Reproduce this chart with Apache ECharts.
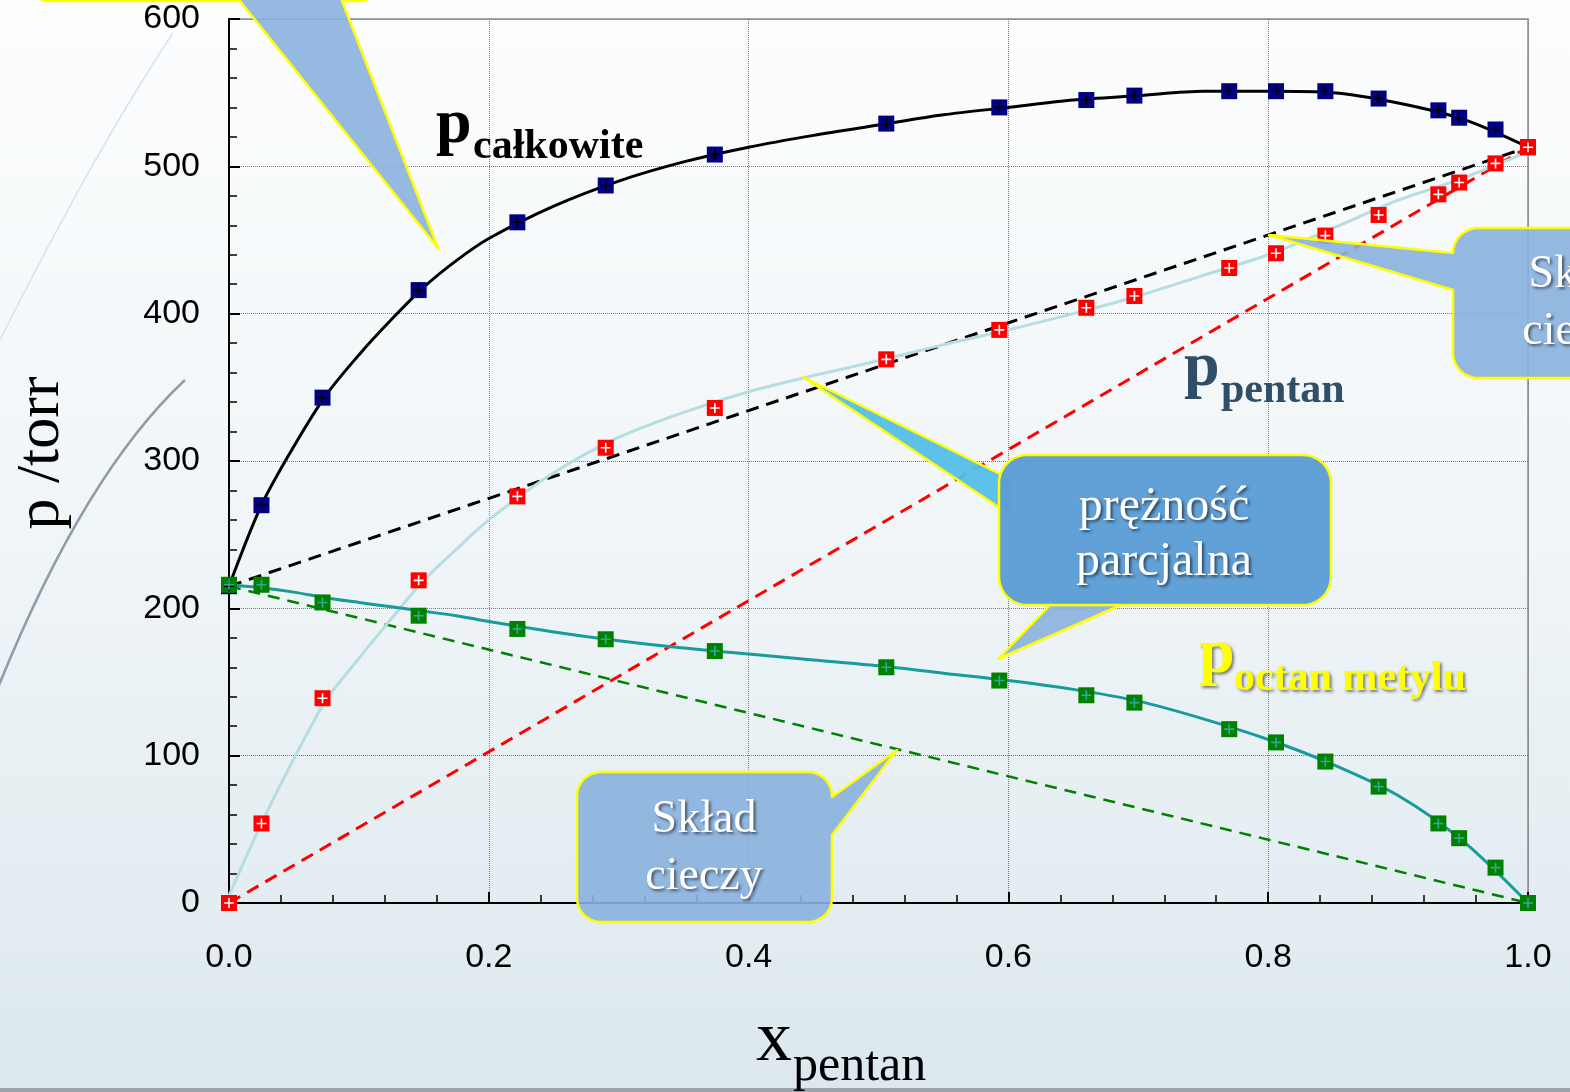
<!DOCTYPE html>
<html><head><meta charset="utf-8">
<script src="https://cdn.jsdelivr.net/npm/echarts@6/dist/echarts.min.js"></script>
<style>html,body{margin:0;padding:0;overflow:hidden}#c{width:1570px;height:1092px}</style>
</head><body><div id="c"></div>
<script>
// ---- data ----
const xPoints      = [0, 0.025, 0.072, 0.146, 0.222, 0.290, 0.374, 0.506, 0.593, 0.660, 0.697, 0.770, 0.806, 0.844, 0.885, 0.931, 0.947, 0.975, 1.0];
const pTotalPoints = [215, 270, 343, 416, 462, 487, 508, 529, 540, 545, 548, 551, 551, 551, 546, 538, 533, 525, 513];
const pPentanPoints= [0, 54, 139, 219, 276, 309, 336, 369, 389, 404, 412, 431, 441, 453, 467, 481, 489, 502, 513];
const pOctanPoints = [216, 216, 204, 195, 186, 179, 171, 160, 151, 141, 136, 118, 109, 96, 79, 54, 44, 24, 0];

const xFit       = [0, 0.025, 0.05, 0.075, 0.1, 0.125, 0.15, 0.175, 0.2, 0.25, 0.3, 0.35, 0.4, 0.45, 0.5, 0.55, 0.6, 0.65, 0.7, 0.75, 0.8, 0.85, 0.9, 0.95, 1.0];
const pTotalFit  = [215, 270, 310, 345, 372, 396, 418, 436, 451, 473, 490, 503, 513, 521, 528, 535, 540, 545, 548, 551, 551, 550, 543, 532, 513];
const pPentanFit = [5, 54, 98, 138, 166, 193, 219, 240, 260, 292, 316, 333, 347, 358, 368, 379, 389, 400, 412, 426, 440, 458, 477, 492, 510];
const pOctanFit  = [216, 214, 211, 207, 204, 201, 198, 195, 191, 184, 178, 173, 169, 165, 161, 156, 151, 145, 137, 125, 111, 94, 73, 42, 0];

const xIdeal      = [0, 1];
const idealTotal  = [215, 513];
const idealPentan = [0, 513];
const idealOctan  = [215, 0];

const xTicks = [0, 0.2, 0.4, 0.6, 0.8, 1.0];
const yTicks = [0, 100, 200, 300, 400, 500, 600];

// ---- helpers ----
const pair = (xs, ys) => xs.map((x, i) => [x, ys[i]]);
const SERIF = '"Liberation Serif", "Times New Roman", serif';
const SANS = '"Liberation Sans", Arial, sans-serif';
const PLUS = 'path://M4.2,0h1.6v4.2h4.2v1.6h-4.2v4.2h-1.6v-4.2h-4.2v-1.6h4.2z';

function T(txt, x, baseline, size, opt) {
  opt = opt || {};
  const st = {
    text: txt, x: 0, y: 0,
    fill: opt.color || '#000',
    font: (opt.weight || 'normal') + ' ' + size + 'px ' + SERIF,
    align: opt.align || 'left', verticalAlign: 'middle'
  };
  if (opt.shadow) {
    st.textShadowColor = opt.shadow; st.textShadowBlur = 3;
    st.textShadowOffsetX = 2; st.textShadowOffsetY = 2;
  }
  return { type: 'text', z: opt.z || 120, x: x, y: baseline - 0.33 * size, rotation: opt.rot || 0, style: st };
}

function calloutPts(x, y, w, h, r, ptr) {
  const pts = [];
  function arc(cx, cy, a0, a1) {
    for (let i = 0; i <= 10; i++) {
      const a = (a0 + (a1 - a0) * i / 10) * Math.PI / 180;
      pts.push([cx + r * Math.cos(a), cy + r * Math.sin(a)]);
    }
  }
  arc(x + r, y + r, 180, 270);
  if (ptr && ptr.side === 'top') pts.push([ptr.a, y], ptr.tip, [ptr.b, y]);
  arc(x + w - r, y + r, 270, 360);
  if (ptr && ptr.side === 'right') pts.push([x + w, ptr.a], ptr.tip, [x + w, ptr.b]);
  arc(x + w - r, y + h - r, 0, 90);
  if (ptr && ptr.side === 'bottom') pts.push([ptr.b, y + h], ptr.tip, [ptr.a, y + h]);
  arc(x + r, y + h - r, 90, 180);
  if (ptr && ptr.side === 'left') pts.push([x, ptr.b], ptr.tip, [x, ptr.a]);
  return pts;
}
function poly(points, fill, z) {
  return { type: 'polygon', z: z || 100, shape: { points: points },
    style: { fill: fill, stroke: '#ffff00', lineWidth: 2.5, lineJoin: 'round' } };
}

const BOX = 'rgba(138,177,222,0.9)';
const BOX2 = 'rgba(88,156,214,0.95)';
const CYAN = 'rgba(84,190,232,0.95)';
const WSH = 'rgba(0,0,0,0.55)';

const graphics = [
  // decorative arcs of the slide background
  { type: 'bezierCurve', z: 1, shape: { x1: 173, y1: 33, cpx1: 95, cpy1: 150, x2: -5, y2: 350 },
    style: { stroke: '#dce3e8', lineWidth: 1.5, fill: null } },
  { type: 'bezierCurve', z: 1, shape: { x1: 185, y1: 380, cpx1: 83, cpy1: 475, x2: -5, y2: 695 },
    style: { stroke: '#8f9daa', lineWidth: 2.5, fill: null } },
  // bottom border of the slide
  { type: 'rect', z: 1, shape: { x: 0, y: 1088, width: 1570, height: 4 }, style: { fill: '#9ca4aa' } },

  // callout top-left (box mostly off the page)
  poly(calloutPts(25, -150, 358, 151, 25, { side: 'bottom', a: 240, b: 342, tip: [438, 248] }), BOX),
  // callout right "Skład cieczy"
  poly(calloutPts(1453, 228, 256, 150, 25, { side: 'left', a: 253, b: 290, tip: [1269, 235] }), BOX),
  T('Skład', 1581, 290, 46, { color: '#fff', align: 'center', shadow: WSH, z: 130 }),
  T('cieczy', 1581, 347, 46, { color: '#fff', align: 'center', shadow: WSH, z: 130 }),
  // callout bottom "Skład cieczy"
  poly(calloutPts(577, 772, 255, 150, 24, { side: 'right', a: 797, b: 835, tip: [897, 750] }), BOX),
  T('Skład', 704, 835, 46, { color: '#fff', align: 'center', shadow: WSH, z: 130 }),
  T('cieczy', 704, 892, 46, { color: '#fff', align: 'center', shadow: WSH, z: 130 }),
  // callout "prężność parcjalna" with two pointers
  poly([[803, 377], [1012, 480], [1012, 516]], CYAN, 100),
  poly([[1057, 598], [1137, 598], [998, 659]], BOX, 100),
  poly(calloutPts(999, 455, 332, 150, 28, null), BOX2, 105),
  T('prężność', 1164, 523, 48, { color: '#fff', align: 'center', shadow: WSH, z: 130 }),
  T('parcjalna', 1164, 578, 48, { color: '#fff', align: 'center', shadow: WSH, z: 130 }),

  // curve labels
  T('p', 436, 147, 64, { weight: 'bold' }),
  T('całkowite', 473, 161, 42, { weight: 'bold' }),
  T('p', 1184, 390, 64, { weight: 'bold', color: '#2f4f67' }),
  T('pentan', 1221, 405, 42, { weight: 'bold', color: '#2f4f67' }),
  T('p', 1199, 677, 64, { weight: 'bold', color: '#ffff00', shadow: 'rgba(0,0,0,0.5)' }),
  T('octan metylu', 1234, 693, 42, { weight: 'bold', color: '#ffff00', shadow: 'rgba(0,0,0,0.5)' }),

  // axis titles
  { type: 'text', z: 120, x: 42, y: 453, rotation: Math.PI / 2,
    style: { text: 'p /torr', x: 0, y: 0, fill: '#000', font: 'normal 62px ' + SERIF, align: 'center', verticalAlign: 'middle' } },
  T('x', 774, 1065, 72, { align: 'center' }),
  T('pentan', 793, 1083, 50)
];

const chart = echarts.init(document.getElementById('c'), null, { renderer: 'canvas' });
chart.setOption({
  animation: false,
  backgroundColor: { type: 'linear', x: 0, y: 0, x2: 0, y2: 1,
    colorStops: [{ offset: 0, color: '#fcfdfe' }, { offset: 0.5, color: '#f0f5f7' }, { offset: 1, color: '#dce8ee' }] },
  grid: { left: 229, right: 42, top: 19, bottom: 189, show: true, borderColor: '#8c8c8c', borderWidth: 1.5, backgroundColor: 'transparent' },
  xAxis: {
    type: 'value', min: xTicks[0], max: xTicks[xTicks.length - 1], interval: 0.2,
    axisLine: { show: true, onZero: false, lineStyle: { color: '#000', width: 2 } },
    axisTick: { show: true, inside: true, length: 11, lineStyle: { color: '#000', width: 2 } },
    minorTick: { show: true, splitNumber: 5, length: 8, lineStyle: { color: '#000', width: 1.5 } },
    splitLine: { show: true, lineStyle: { color: '#7a7a7a', width: 1, type: 'dotted' } },
    axisLabel: { margin: 38, fontSize: 34, fontFamily: SANS, color: '#000', formatter: v => v.toFixed(1) }
  },
  yAxis: {
    type: 'value', min: yTicks[0], max: yTicks[yTicks.length - 1], interval: 100,
    axisLine: { show: true, onZero: false, lineStyle: { color: '#000', width: 2 } },
    axisTick: { show: true, inside: true, length: 11, lineStyle: { color: '#000', width: 2 } },
    minorTick: { show: true, splitNumber: 5, length: 8, lineStyle: { color: '#000', width: 1.5 } },
    splitLine: { show: true, lineStyle: { color: '#7a7a7a', width: 1, type: 'dotted' } },
    axisLabel: { margin: 29, fontSize: 34, fontFamily: SANS, color: '#000' }
  },
  series: [
    { type: 'line', data: pair(xIdeal, idealOctan), symbol: 'none', z: 2, lineStyle: { color: '#008000', width: 2.5, type: [12, 8] } },
    { type: 'line', data: pair(xIdeal, idealPentan), symbol: 'none', z: 2, lineStyle: { color: '#ff0000', width: 3, type: [13, 8] } },
    { type: 'line', data: pair(xIdeal, idealTotal), symbol: 'none', z: 2, lineStyle: { color: '#000000', width: 3, type: [13, 8] } },
    { type: 'line', data: pair(xFit, pPentanFit), symbol: 'none', smooth: 0.3, z: 3, lineStyle: { color: '#b6dde2', width: 3 } },
    { type: 'line', data: pair(xFit, pOctanFit), symbol: 'none', smooth: 0.3, z: 3, lineStyle: { color: '#179b9b', width: 3 } },
    { type: 'line', data: pair(xFit, pTotalFit), symbol: 'none', smooth: 0.3, z: 3, lineStyle: { color: '#000000', width: 3 } },
    { type: 'scatter', data: pair(xPoints, pTotalPoints), symbol: 'rect', symbolSize: 16, z: 4, itemStyle: { color: '#000080', opacity: 1 } },
    { type: 'scatter', data: pair(xPoints, pTotalPoints), symbol: PLUS, symbolSize: 10, z: 5, itemStyle: { color: '#000000', opacity: 1 } },
    { type: 'scatter', data: pair(xPoints, pPentanPoints), symbol: 'rect', symbolSize: 16, z: 4, itemStyle: { color: '#ff0000', opacity: 1 } },
    { type: 'scatter', data: pair(xPoints, pPentanPoints), symbol: PLUS, symbolSize: 10, z: 5, itemStyle: { color: '#ffffff', opacity: 1 } },
    { type: 'scatter', data: pair(xPoints, pOctanPoints), symbol: 'rect', symbolSize: 16, z: 4, itemStyle: { color: '#008000', opacity: 1 } },
    { type: 'scatter', data: pair(xPoints, pOctanPoints), symbol: PLUS, symbolSize: 10, z: 5, itemStyle: { color: '#2fa89c', opacity: 1 } }
  ],
  graphic: { elements: graphics }
});
</script>
</body></html>
